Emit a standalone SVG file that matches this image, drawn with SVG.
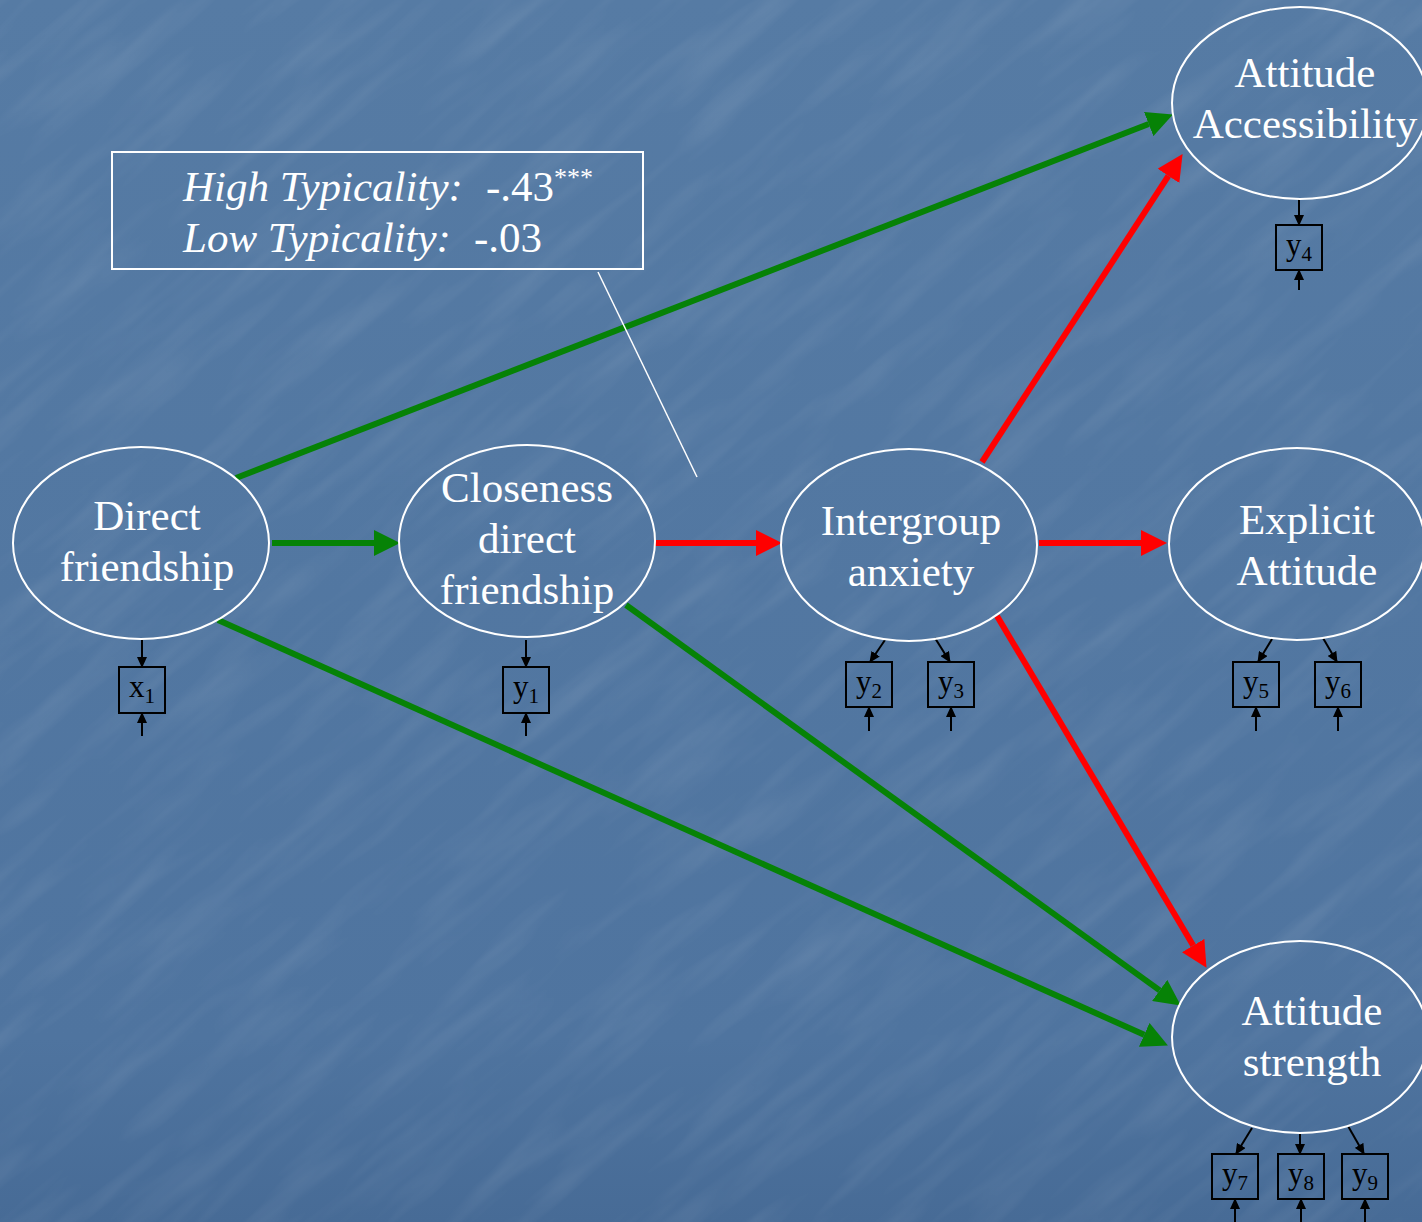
<svg xmlns="http://www.w3.org/2000/svg" width="1422" height="1222" viewBox="0 0 1422 1222">
  <defs>
    <linearGradient id="bg" x1="0" y1="0" x2="0" y2="1">
      <stop offset="0" stop-color="#567ba4"/>
      <stop offset="0.85" stop-color="#4f749f"/>
      <stop offset="1" stop-color="#476b96"/>
    </linearGradient>
    <filter id="grain" x="0" y="0" width="100%" height="100%">
      <feTurbulence type="fractalNoise" baseFrequency="0.006 0.04" numOctaves="3" seed="7" result="n"/>
      <feColorMatrix type="matrix" values="0 0 0 0 1  0 0 0 0 1  0 0 0 0 1  0 0 0 0.55 -0.24"/>
    </filter>
    <marker id="headGreen" markerUnits="userSpaceOnUse" markerWidth="26" markerHeight="26" refX="0" refY="13" orient="auto">
      <path d="M0,0 L26,13 L0,26 z" fill="#068206"/>
    </marker>
    <marker id="headRed" markerUnits="userSpaceOnUse" markerWidth="26" markerHeight="26" refX="0" refY="13" orient="auto">
      <path d="M0,0 L26,13 L0,26 z" fill="#ff0000"/>
    </marker>
    <marker id="headBlack" markerUnits="userSpaceOnUse" markerWidth="11" markerHeight="10" refX="10" refY="5" orient="auto">
      <path d="M0,0 L11,5 L0,10 z" fill="#000"/>
    </marker>
  </defs>
  <style>
    .latent { fill: none; stroke: #ffffff; stroke-width: 2; }
    .lbl { font-family: "Liberation Serif", "Times New Roman", serif; font-size: 43px; fill: #ffffff; text-anchor: middle; }
    .ind { fill: none; stroke: #000; stroke-width: 2; }
    .indtxt { font-family: "Liberation Serif", "Times New Roman", serif; font-size: 31px; fill: #000; text-anchor: middle; }
    .sub { font-size: 21px; }
    .green { stroke: #068206; stroke-width: 6; fill: none; marker-end: url(#headGreen); }
    .red { stroke: #ff0000; stroke-width: 6; fill: none; marker-end: url(#headRed); }
    .small { stroke: #000; stroke-width: 2; fill: none; marker-end: url(#headBlack); }
    .note { font-family: "Liberation Serif", "Times New Roman", serif; font-size: 43px; fill: #ffffff; }
  </style>

  <!-- background -->
  <rect width="1422" height="1222" fill="url(#bg)"/>
  <g transform="rotate(-40 711 611)" opacity="0.3">
    <rect x="-500" y="-500" width="2422" height="2222" filter="url(#grain)"/>
  </g>

  <!-- structural paths -->
  <g id="connectors">
    <line class="green" x1="272" y1="543" x2="374" y2="543"/>
    <line class="red" x1="655" y1="543" x2="756" y2="543"/>
    <line class="red" x1="1039" y1="543" x2="1141" y2="543"/>
    <line class="green" x1="236" y1="478" x2="1148.7" y2="124"/>
    <line class="red" x1="982" y1="462" x2="1168.4" y2="175.9"/>
    <line class="red" x1="997" y1="616" x2="1193.2" y2="945.5"/>
    <line class="green" x1="626" y1="605" x2="1159.7" y2="990.4"/>
    <line class="green" x1="218" y1="620" x2="1144.2" y2="1034.8"/>
    <!-- callout line from coefficient box -->
    <line x1="598" y1="272" x2="697" y2="477" stroke="#ffffff" stroke-width="1.5"/>
    <!-- indicator loadings and error terms -->
    <line class="small" x1="142" y1="640" x2="142" y2="667"/>
    <line class="small" x1="142" y1="736" x2="142" y2="713"/>
    <line class="small" x1="526" y1="640" x2="526" y2="667"/>
    <line class="small" x1="526" y1="736" x2="526" y2="713"/>
    <line class="small" x1="885" y1="640" x2="870" y2="662"/>
    <line class="small" x1="869" y1="731" x2="869" y2="707"/>
    <line class="small" x1="935" y1="638" x2="950" y2="662"/>
    <line class="small" x1="951" y1="731" x2="951" y2="707"/>
    <line class="small" x1="1299" y1="199" x2="1299" y2="225"/>
    <line class="small" x1="1299" y1="290" x2="1299" y2="270"/>
    <line class="small" x1="1272" y1="639" x2="1258" y2="662"/>
    <line class="small" x1="1256" y1="731" x2="1256" y2="707"/>
    <line class="small" x1="1323" y1="638" x2="1337" y2="662"/>
    <line class="small" x1="1338" y1="731" x2="1338" y2="707"/>
    <line class="small" x1="1252" y1="1128" x2="1236" y2="1154"/>
    <line class="small" x1="1235" y1="1224" x2="1235" y2="1199"/>
    <line class="small" x1="1300" y1="1133" x2="1300" y2="1154"/>
    <line class="small" x1="1301" y1="1224" x2="1301" y2="1199"/>
    <line class="small" x1="1348" y1="1126" x2="1364" y2="1154"/>
    <line class="small" x1="1365" y1="1224" x2="1365" y2="1199"/>
  </g>

  <!-- coefficient box -->
  <g id="coefficients">
    <rect x="112" y="152" width="531" height="117" fill="none" stroke="#ffffff" stroke-width="2"/>
    <text class="note" y="201"><tspan x="183" font-style="italic">High Typicality:</tspan><tspan x="486">-.43</tspan><tspan font-size="26" dy="-15">***</tspan></text>
    <text class="note" y="252"><tspan x="183" font-style="italic">Low Typicality:</tspan><tspan x="474">-.03</tspan></text>
  </g>

  <!-- latent variables -->
  <g id="direct-friendship">
    <ellipse class="latent" cx="141" cy="543" rx="128" ry="96"/>
    <text class="lbl" x="147" y="530">Direct</text>
    <text class="lbl" x="147" y="581">friendship</text>
  </g>
  <g id="closeness">
    <ellipse class="latent" cx="527" cy="541" rx="128" ry="96"/>
    <text class="lbl" x="527" y="502">Closeness</text>
    <text class="lbl" x="527" y="553">direct</text>
    <text class="lbl" x="527" y="604">friendship</text>
  </g>
  <g id="intergroup-anxiety">
    <ellipse class="latent" cx="909" cy="545" rx="128" ry="96"/>
    <text class="lbl" x="911" y="535">Intergroup</text>
    <text class="lbl" x="911" y="586">anxiety</text>
  </g>
  <g id="explicit-attitude">
    <ellipse class="latent" cx="1297" cy="544" rx="128" ry="96"/>
    <text class="lbl" x="1307" y="534">Explicit</text>
    <text class="lbl" x="1307" y="585">Attitude</text>
  </g>
  <g id="attitude-accessibility">
    <ellipse class="latent" cx="1300" cy="103" rx="128" ry="96"/>
    <text class="lbl" x="1305" y="87">Attitude</text>
    <text class="lbl" x="1305" y="138">Accessibility</text>
  </g>
  <g id="attitude-strength">
    <ellipse class="latent" cx="1300" cy="1037" rx="128" ry="96"/>
    <text class="lbl" x="1312" y="1025">Attitude</text>
    <text class="lbl" x="1312" y="1076">strength</text>
  </g>

  <!-- observed indicators -->
  <g id="x1"><rect class="ind" x="119" y="667" width="46" height="46"/><text class="indtxt" x="142" y="697">x<tspan class="sub" dy="6">1</tspan></text></g>
  <g id="y1"><rect class="ind" x="503" y="667" width="46" height="46"/><text class="indtxt" x="526" y="697">y<tspan class="sub" dy="6">1</tspan></text></g>
  <g id="y2"><rect class="ind" x="846" y="662" width="46" height="45"/><text class="indtxt" x="869" y="692">y<tspan class="sub" dy="6">2</tspan></text></g>
  <g id="y3"><rect class="ind" x="928" y="662" width="46" height="45"/><text class="indtxt" x="951" y="692">y<tspan class="sub" dy="6">3</tspan></text></g>
  <g id="y4"><rect class="ind" x="1276" y="225" width="46" height="45"/><text class="indtxt" x="1299" y="255">y<tspan class="sub" dy="6">4</tspan></text></g>
  <g id="y5"><rect class="ind" x="1233" y="662" width="46" height="45"/><text class="indtxt" x="1256" y="692">y<tspan class="sub" dy="6">5</tspan></text></g>
  <g id="y6"><rect class="ind" x="1315" y="662" width="46" height="45"/><text class="indtxt" x="1338" y="692">y<tspan class="sub" dy="6">6</tspan></text></g>
  <g id="y7"><rect class="ind" x="1212" y="1154" width="46" height="45"/><text class="indtxt" x="1235" y="1184">y<tspan class="sub" dy="6">7</tspan></text></g>
  <g id="y8"><rect class="ind" x="1278" y="1154" width="46" height="45"/><text class="indtxt" x="1301" y="1184">y<tspan class="sub" dy="6">8</tspan></text></g>
  <g id="y9"><rect class="ind" x="1342" y="1154" width="46" height="45"/><text class="indtxt" x="1365" y="1184">y<tspan class="sub" dy="6">9</tspan></text></g>
</svg>
